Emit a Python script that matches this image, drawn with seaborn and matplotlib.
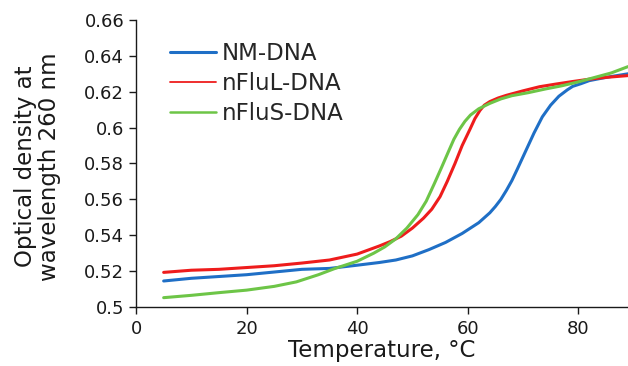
import numpy as np
import pandas as pd
import matplotlib
matplotlib.use('Agg')
import matplotlib.pyplot as plt
import seaborn as sns

# Temperatures (°C) and optical density
nm_temp = [5, 10, 15, 20, 25, 30, 35, 40, 44, 47, 50, 53, 56, 59, 62, 64, 65, 66, 67,
           68, 69, 70.5, 72, 73.5, 75, 76.5, 78, 79, 80.5, 82, 84, 86, 88, 89]
nm_od = [0.5145, 0.516, 0.517, 0.518, 0.5195, 0.521, 0.5215, 0.5233, 0.5248, 0.5262,
         0.5285, 0.532, 0.536, 0.541, 0.547, 0.5525, 0.556, 0.560, 0.565, 0.5705, 0.577,
         0.587, 0.597, 0.606, 0.6125, 0.6175, 0.621, 0.623, 0.6245, 0.6262, 0.6274,
         0.6285, 0.6295, 0.630]

fl_temp = [5, 10, 15, 20, 25, 30, 35, 40, 44, 46, 48, 50, 52, 53.5, 55, 56.3, 57.7,
           59, 60.4, 61.3, 62.2, 63, 64, 65.5, 67, 70, 73, 76, 79, 82, 85, 89]
fl_od = [0.5193, 0.5205, 0.521, 0.522, 0.523, 0.5245, 0.5262, 0.5295, 0.534, 0.5365,
         0.5395, 0.544, 0.5495, 0.5545, 0.5615, 0.570, 0.580, 0.590, 0.599, 0.605,
         0.6095, 0.6125, 0.6145, 0.6165, 0.618, 0.6205, 0.6228, 0.6243, 0.6257, 0.627,
         0.628, 0.629]

fs_temp = [5, 10, 15, 20, 25, 29, 33, 36, 40, 43, 45, 47, 49, 51, 52.5, 54, 55.3, 56.5,
           57.5, 58.5, 59.5, 60.5, 62, 64, 66, 68, 71, 74, 77, 80, 83, 86, 89]
fs_od = [0.5052, 0.5065, 0.508, 0.5094, 0.5115, 0.514, 0.518, 0.5215, 0.5255, 0.530,
         0.5335, 0.538, 0.544, 0.5515, 0.559, 0.569, 0.578, 0.5865, 0.5935, 0.599,
         0.6035, 0.607, 0.6105, 0.6135, 0.616, 0.6178, 0.6195, 0.6215, 0.6233, 0.6255,
         0.628, 0.6305, 0.634]

labels = ['NM-DNA', 'nFluL-DNA', 'nFluS-DNA']
colors = ['#1f6fc6', '#ee1c1c', '#6dc547']

df = pd.concat([
    pd.DataFrame({'T': nm_temp, 'OD': nm_od, 'sample': labels[0]}),
    pd.DataFrame({'T': fl_temp, 'OD': fl_od, 'sample': labels[1]}),
    pd.DataFrame({'T': fs_temp, 'OD': fs_od, 'sample': labels[2]}),
])

sns.set_style('ticks')
plt.rcParams['font.family'] = ['DejaVu Sans']

fig = plt.figure(figsize=(6.28, 3.66), dpi=100)
ax = fig.add_axes([0.2166, 0.1612, 0.7834, 0.7842])

sns.lineplot(data=df, x='T', y='OD', hue='sample', palette=colors,
             linewidth=2.2, ax=ax, sort=True)

ax.set_xlim(0, 89)
ax.set_ylim(0.5, 0.66)
ax.set_xticks([0, 20, 40, 60, 80])
ax.set_yticks([0.5, 0.52, 0.54, 0.56, 0.58, 0.6, 0.62, 0.64, 0.66])
ax.set_yticklabels(['0.5', '0.52', '0.54', '0.56', '0.58', '0.6', '0.62', '0.64', '0.66'])
ax.tick_params(labelsize=13, length=5, width=1, colors='#1a1a1a')
ax.tick_params(axis='y', pad=3.5)
ax.tick_params(axis='x', pad=4)
sns.despine(ax=ax)
for s in ['left', 'bottom']:
    ax.spines[s].set_linewidth(1)
    ax.spines[s].set_color('#1a1a1a')

ax.set_xlabel('Temperature, °C', fontsize=16.5, color='#1a1a1a', labelpad=1)
ax.set_ylabel('Optical density at\nwavelength 260 nm', fontsize=16.5, color='#1a1a1a',
              linespacing=1.05)
ax.yaxis.set_label_coords(-0.152, 0.49)

leg = ax.legend(loc='upper left', bbox_to_anchor=(0.069, 0.923), frameon=False,
                fontsize=16.5, handlelength=2.0, handletextpad=0.27, labelspacing=0.3,
                borderpad=0, borderaxespad=0)
for line, lw in zip(leg.get_lines(), [2.2, 1.3, 1.8]):
    line.set_linewidth(lw)

fig.savefig('out.png', dpi=100)
